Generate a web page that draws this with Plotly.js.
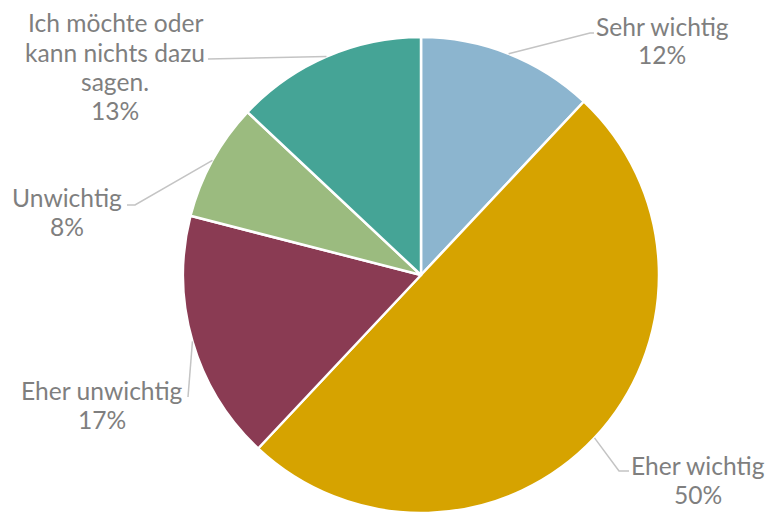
<!DOCTYPE html>
<html><head><meta charset="utf-8">
<script src="https://cdn.plot.ly/plotly-3.0.1.min.js"></script>
<style>html,body{margin:0;padding:0;background:#fff;}#chart{width:769px;height:513px;}</style>
</head><body><div id="chart"></div>
<script>
const categories = ["Sehr wichtig", "Eher wichtig", "Eher unwichtig", "Unwichtig", "Ich möchte oder<br>kann nichts dazu<br>sagen."];
const values = [12, 50, 17, 8, 13];
const percentLabels = ["12%", "50%", "17%", "8%", "13%"];
const colors = ["#8cb5cf", "#d6a300", "#8a3b53", "#9bbb7f", "#45a496"];

const W = 769, H = 513;
const cx = 421, cy = 275, R = 238;
const lineGap = 29;
// label layout (pixel positions): text centre x, first line centre y, leader elbow/end points
const labelPos = [
  {x: 662, y: 26, pts: [[590, 33], [594, 33]]},
  {x: 698, y: 465, pts: [[619, 471], [629, 471]]},
  {x: 102, y: 390, pts: [[188, 397]]},
  {x: 67, y: 197, pts: [[135, 205], [127, 205]]},
  {x: 115, y: 23, pts: [[208, 59]]}
];
const font = {family: "Lato, 'Open Sans', sans-serif", size: 24.6, color: "#7f7f7f"};
const px = x => x / W, py = y => 1 - y / H;

const total = values.reduce((a, b) => a + b, 0);
let cum = 0;
const shapes = [], annotations = [];
values.forEach((v, i) => {
  const mid = (cum + v / 2) / total * 2 * Math.PI;
  cum += v;
  const sx = cx + R * Math.sin(mid), sy = cy - R * Math.cos(mid);
  let path = "M" + px(sx) + "," + py(sy);
  labelPos[i].pts.forEach(p => { path += " L" + px(p[0]) + "," + py(p[1]); });
  shapes.push({type: "path", xref: "paper", yref: "paper", path: path, line: {color: "#c4c4c4", width: 1.5}});
  const lines = (categories[i] + "<br>" + percentLabels[i]).split("<br>");
  lines.forEach((t, k) => {
    annotations.push({xref: "paper", yref: "paper", x: px(labelPos[i].x), y: py(labelPos[i].y + k * lineGap),
      xanchor: "center", yanchor: "middle", showarrow: false, align: "center",
      text: t, font: font});
  });
});

const data = [{
  type: "pie", labels: categories, values: values, sort: false, direction: "clockwise", rotation: 0,
  marker: {colors: colors, line: {color: "#ffffff", width: 2.5}},
  textinfo: "none", hoverinfo: "label+percent",
  domain: {x: [(cx - R) / W, (cx + R) / W], y: [py(cy + R), py(cy - R)]}
}];
const layout = {width: W, height: H, margin: {l: 0, r: 0, t: 0, b: 0}, showlegend: false,
  paper_bgcolor: "#ffffff", shapes: shapes, annotations: annotations};
Plotly.newPlot("chart", data, layout, {displayModeBar: false, staticPlot: true});
</script></body></html>
